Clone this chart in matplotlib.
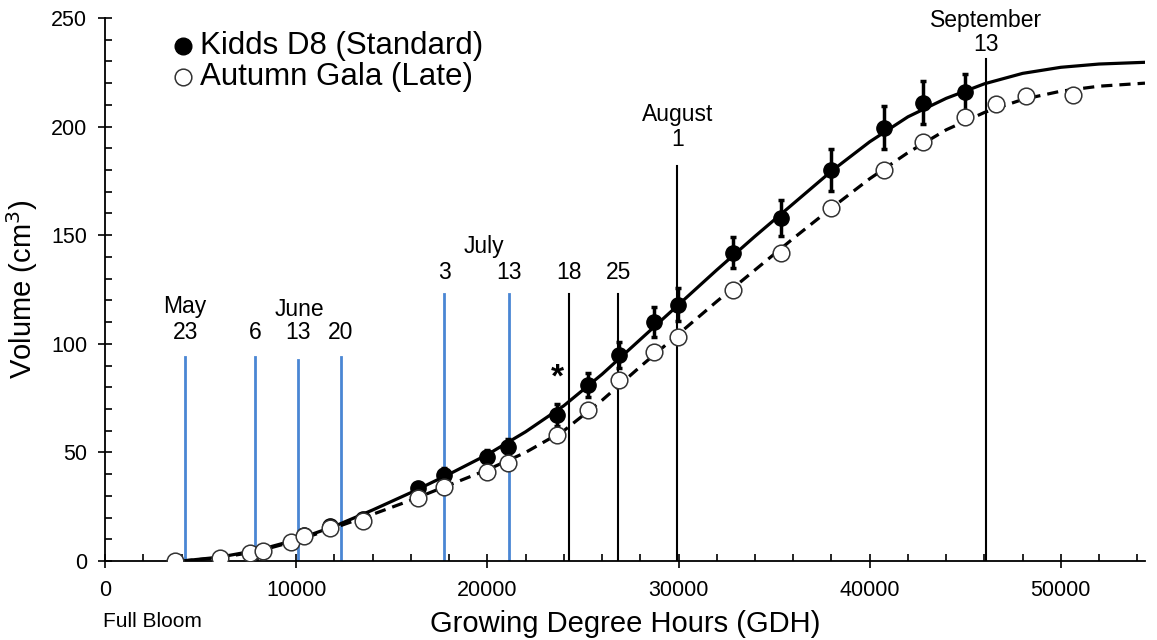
import matplotlib
matplotlib.use("Agg")
import matplotlib.pyplot as plt
from matplotlib.ticker import MultipleLocator

plt.rcParams['font.family'] = ['Liberation Sans', 'DejaVu Sans']

# Kidds D8 (standard) means and error bars
kidds_gdh = [10420, 11780, 13510, 16390, 17750, 20000, 21100, 23660, 25260,
             26860, 28740, 29950, 32830, 35340, 37960, 40730, 42770, 44970]
kidds_vol = [12, 16, 19.5, 33.6, 39.6, 48, 52.5, 67.3, 81,
             95, 110, 118, 142, 158, 180, 199.5, 211, 215.7]
kidds_err = [1, 1.5, 2, 2.5, 3, 3, 3.5, 5, 5.4,
             6, 6.9, 7.7, 7.3, 8.4, 9.5, 10, 10, 8.4]

# Autumn Gala (late) means
gala_gdh = [3660, 6020, 7590, 8270, 9740, 10420, 11780, 13510, 16390, 17750,
            20000, 21100, 23660, 25290, 26860, 28740, 29950, 32830, 35340,
            37960, 40730, 42770, 44970, 46600, 48170, 50630]
gala_vol = [0, 1.5, 3.7, 4.7, 8.8, 11.6, 15, 18.5, 29, 34,
            41, 45, 58, 69.6, 83.4, 96.3, 103, 125, 142,
            162.6, 180, 193, 204.6, 210.6, 214, 214.7]

# fitted growth curves
curve_gdh = [4000, 6000, 8000, 10000, 12000, 14000, 16000, 18000, 20000,
             22000, 24000, 26000, 28000, 30000, 32000, 34000, 36000, 38000,
             40000, 42000, 44000, 46000, 48000, 50000, 52000, 54400]
kidds_fit = [0, 1.8, 5, 9.8, 16, 23.5, 31.5, 40, 49,
             59.5, 71.5, 86, 102, 118, 134, 149.5, 164.5, 179.5,
             193, 204.5, 213, 219.7, 224.5, 227.3, 228.8, 229.6]
gala_fit = [0, 1.5, 4.5, 9.3, 15.3, 21.5, 28, 35, 42,
            50, 60, 74, 89.5, 104.5, 119.5, 134, 148.5, 162.5,
            176, 188, 198.5, 206.5, 212.5, 216.3, 218.6, 220]

# sampling dates
date_gdh = [4190, 7870, 10070, 12330, 17730, 21120, 24260, 26840, 29930, 46070]
date_top = [94, 94, 92.5, 94, 123, 123, 123, 123, 182, 231]
date_day = ['23', '6', '13', '20', '3', '13', '18', '25', '1', '13']
date_day_y = [105, 105, 105, 105, 133, 133, 133, 133, 194, 238]
date_blue = [True, True, True, True, True, True, False, False, False, False]
months = ['May', 'June', 'July', 'August', 'September']
month_gdh = [4190, 10150, 19800, 29930, 46070]
month_y = [117, 116, 145, 205.5, 249]

blue = '#4a86d4'

fig = plt.figure(figsize=(11.57, 6.4), dpi=100)
ax = fig.add_axes([0.0908, 0.1234, 0.8988, 0.8485])

for x, top, day, dy, isblue in zip(date_gdh, date_top, date_day, date_day_y, date_blue):
    ax.plot([x, x], [0, top], color=blue if isblue else 'black',
            lw=2 if isblue else 1.5, zorder=1)
    ax.text(x, dy, day, ha='center', va='center', fontsize=16.5)
for m, x, y in zip(months, month_gdh, month_y):
    ax.text(x, y, m, ha='center', va='center', fontsize=16.5, clip_on=False)

ax.plot(curve_gdh, kidds_fit, color='black', lw=2.3, zorder=2)
ax.plot(curve_gdh, gala_fit, color='black', lw=2.3, ls=(0, (3.5, 2.2)), zorder=2)

ax.errorbar(kidds_gdh, kidds_vol, yerr=kidds_err, fmt='o', color='black',
            ms=11, elinewidth=2.5, capsize=2.5, capthick=2.5, zorder=3)
ax.plot(gala_gdh, gala_vol, 'o', mfc='white', mec='#333333', mew=1.1,
        ms=12, zorder=4)

ax.text(23660, 77, '*', ha='center', va='bottom', fontsize=24, fontweight='bold')

# legend drawn as markers and text
ax.plot([4080], [237], 'o', color='black', ms=12, clip_on=False)
ax.plot([4080], [223], 'o', mfc='white', mec='#333333', mew=1.1, ms=12, clip_on=False)
ax.text(4950, 237, 'Kidds D8 (Standard)', va='center', fontsize=22.5)
ax.text(4950, 223, 'Autumn Gala (Late)', va='center', fontsize=22.5)

ax.set_xlim(0, 54400)
ax.set_ylim(0, 250)
ax.xaxis.set_major_locator(MultipleLocator(10000))
ax.xaxis.set_minor_locator(MultipleLocator(2000))
ax.yaxis.set_major_locator(MultipleLocator(50))
ax.yaxis.set_minor_locator(MultipleLocator(10))
ax.tick_params(which='major', direction='inout', length=10, width=1.2,
               labelsize=15.5)
ax.tick_params(axis='x', which='major', pad=9)
ax.tick_params(axis='y', which='major', pad=8)
ax.tick_params(which='minor', direction='in', length=5, width=1.2)
for side in ['top', 'right']:
    ax.spines[side].set_visible(False)
for side in ['left', 'bottom']:
    ax.spines[side].set_linewidth(1.3)

ax.set_xlabel('Growing Degree Hours (GDH)', fontsize=21, labelpad=6)
ax.set_ylabel('Volume (cm$^3$)', fontsize=21, labelpad=8)
ax.text(-100, -0.112, 'Full Bloom', transform=ax.get_xaxis_transform(),
        ha='left', va='center', fontsize=15)

fig.savefig('out.png', dpi=100)
